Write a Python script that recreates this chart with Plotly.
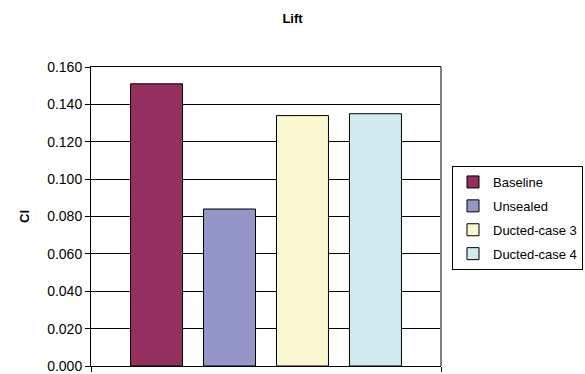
import plotly.graph_objects as go

series_names = ["Baseline", "Unsealed", "Ducted-case 3", "Ducted-case 4"]
cl_values = [0.151, 0.084, 0.134, 0.135]
colors = ["#943060", "#9496C8", "#FAF8D0", "#D0ECF0"]
category = [""]

fig = go.Figure()
for name, val, col in zip(series_names, cl_values, colors):
    fig.add_trace(go.Bar(
        x=category, y=[val], name=name, legendgroup=name,
        marker=dict(color=col, line=dict(color="black", width=1)),
    ))

font_family = "Liberation Sans, Arial, sans-serif"
fig.update_layout(
    width=585, height=374,
    margin=dict(l=91, r=144, t=67, b=8, autoexpand=False),
    paper_bgcolor="white", plot_bgcolor="white",
    barmode="group", bargap=0.166, bargroupgap=0.288,
    font=dict(family=font_family, size=14, color="black"),
    title=dict(text="<b>Lift</b>", x=0.5, xanchor="center", y=0.952, yanchor="middle",
               font=dict(size=13, family=font_family)),
    showlegend=True,
    legend=dict(xref="container", x=452 / 585, xanchor="left",
                yref="container", y=1 - 166 / 374, yanchor="top",
                bordercolor="black", borderwidth=1, bgcolor="white",
                font=dict(size=13, family=font_family),
                traceorder="grouped", tracegroupgap=4,
                itemwidth=30),
    xaxis=dict(showticklabels=False, showline=True, linecolor="black", linewidth=1,
               mirror=True, ticks="outside", tickson="boundaries", ticklen=5,
               tickcolor="black", showgrid=False, range=[-0.5, 0.5]),
    yaxis=dict(range=[0, 0.16], dtick=0.02, tickformat=".3f", showgrid=True,
               gridcolor="black", gridwidth=1, showline=True, linecolor="black",
               linewidth=1, ticks="outside", ticklen=5, tickcolor="black",
               zeroline=False, ticklabeloverflow="allow",
               title=dict(text="<b>Cl</b>", font=dict(size=13, family=font_family), standoff=14)),
)
fig.add_shape(type="line", xref="paper", yref="paper", x0=1, x1=1, y0=0, y1=1,
              line=dict(color="#808080", width=2))
fig.write_html("out.html")
